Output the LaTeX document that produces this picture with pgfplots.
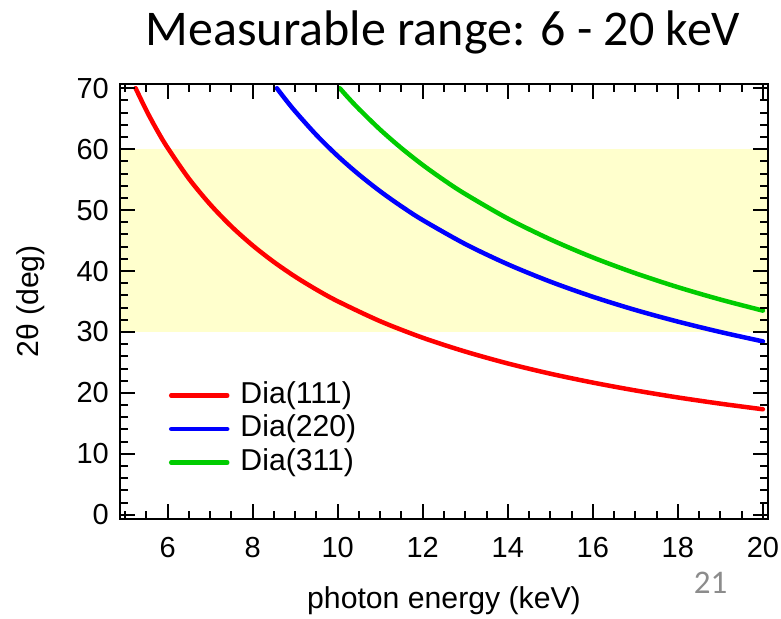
\documentclass[border=0pt]{standalone}
\usepackage{fontspec}
\setmainfont{Liberation Sans}
\newfontfamily\calibri{Carlito}
\usepackage{pgfplots}
\pgfplotsset{compat=1.18}
\definecolor{band}{RGB}{255,255,205}
\definecolor{dgreen}{RGB}{0,204,0}
\definecolor{pgray}{RGB}{140,140,140}
\begin{document}
\begin{tikzpicture}[x=1pt,y=1pt]
\begin{axis}[
  at={(120pt,99pt)}, anchor=south west,
  scale only axis, width=648pt, height=435pt,
  xmin=4.88, xmax=20.12, ymin=-0.7, ymax=70.7,
  xtick={6,8,...,20}, ytick={0,10,...,70},
  minor xtick={5,5.5,...,20}, minor ytick={0,2,...,70},
  tick align=inside,
  major tick length=15pt, minor tick length=8pt,
  every tick/.style={black, line width=2pt},
  axis line style={line width=2.5pt},
  axis on top,
  clip=false,
  /pgf/number format/assume math mode=true,
  tick label style={font=\fontsize{29}{34}\selectfont},
  xticklabel style={anchor=north, inner sep=0pt, yshift=-17pt, text height=20.8pt},
  yticklabel style={anchor=east, inner sep=0pt, xshift=-11pt},
  label style={font=\fontsize{30.2}{36}\selectfont},
  xlabel={photon energy (keV)},
  xlabel style={at={(axis description cs:0.5,-0.2069)}, anchor=base, inner sep=0pt},
  ylabel={2θ (deg)},
  ylabel style={at={(axis description cs:-0.125,0.5)}, anchor=base, inner sep=0pt},
  legend style={draw=none, fill=none, at={(0.0756,0.3149)}, anchor=north west,
    inner sep=0pt, outer sep=0pt, row sep=6.5pt, column sep=11pt,
    font=\fontsize{30.2}{36}\selectfont,
    nodes={inner sep=0pt, text height=21pt, text depth=6pt}},
  legend cell align=left,
  legend image code/.code={\draw[#1] (0pt,0pt) -- (56pt,0pt);},
]
\addplot[draw=none, fill=band, forget plot] coordinates {(4.88,30) (20.12,30) (20.12,60) (4.88,60)};
\addplot[red, line width=4.5pt, smooth, line cap=round] coordinates {
(5.248,70.00) (5.5,66.36) (5.75,63.13) (6,60.22) (6.5,55.17) (7,50.94) (7.5,47.32) (8,44.20) (8.5,41.48) (9,39.08) (9.5,36.95) (10,35.04) (11,31.76) (12,29.05) (13,26.78) (14,24.83) (15,23.15) (16,21.69) (17,20.40) (18,19.25) (19,18.23) (20,17.31)};
\addlegendentry{Dia(111)}
\addplot[blue, line width=4.5pt, smooth, line cap=round] coordinates {
(8.570,70.00) (8.75,68.36) (9,66.21) (9.5,62.32) (10,58.88) (10.5,55.83) (11,53.08) (11.5,50.61) (12,48.36) (13,44.43) (14,41.11) (15,38.26) (16,35.78) (17,33.61) (18,31.70) (19,29.99) (20,28.45)};
\addlegendentry{Dia(220)}
\addplot[dgreen, line width=4.5pt, smooth, line cap=round] coordinates {
(10.049,70.00) (10.25,68.43) (10.5,66.59) (11,63.20) (11.5,60.16) (12,57.41) (12.5,54.92) (13,52.64) (14,48.62) (15,45.20) (16,42.23) (17,39.64) (18,37.35) (19,35.32) (20,33.50)};
\addlegendentry{Dia(311)}
\end{axis}
\node[anchor=base, font=\calibri\fontsize{50}{60}\selectfont] at (443,572) {Measurable range: 6 - 20 keV};
\node[anchor=base, font=\calibri\fontsize{33}{40}\selectfont, text=pgray] at (710.5,24) {21};
\pgfresetboundingbox
\useasboundingbox (0,0) rectangle (781,618);
\end{tikzpicture}
\end{document}
